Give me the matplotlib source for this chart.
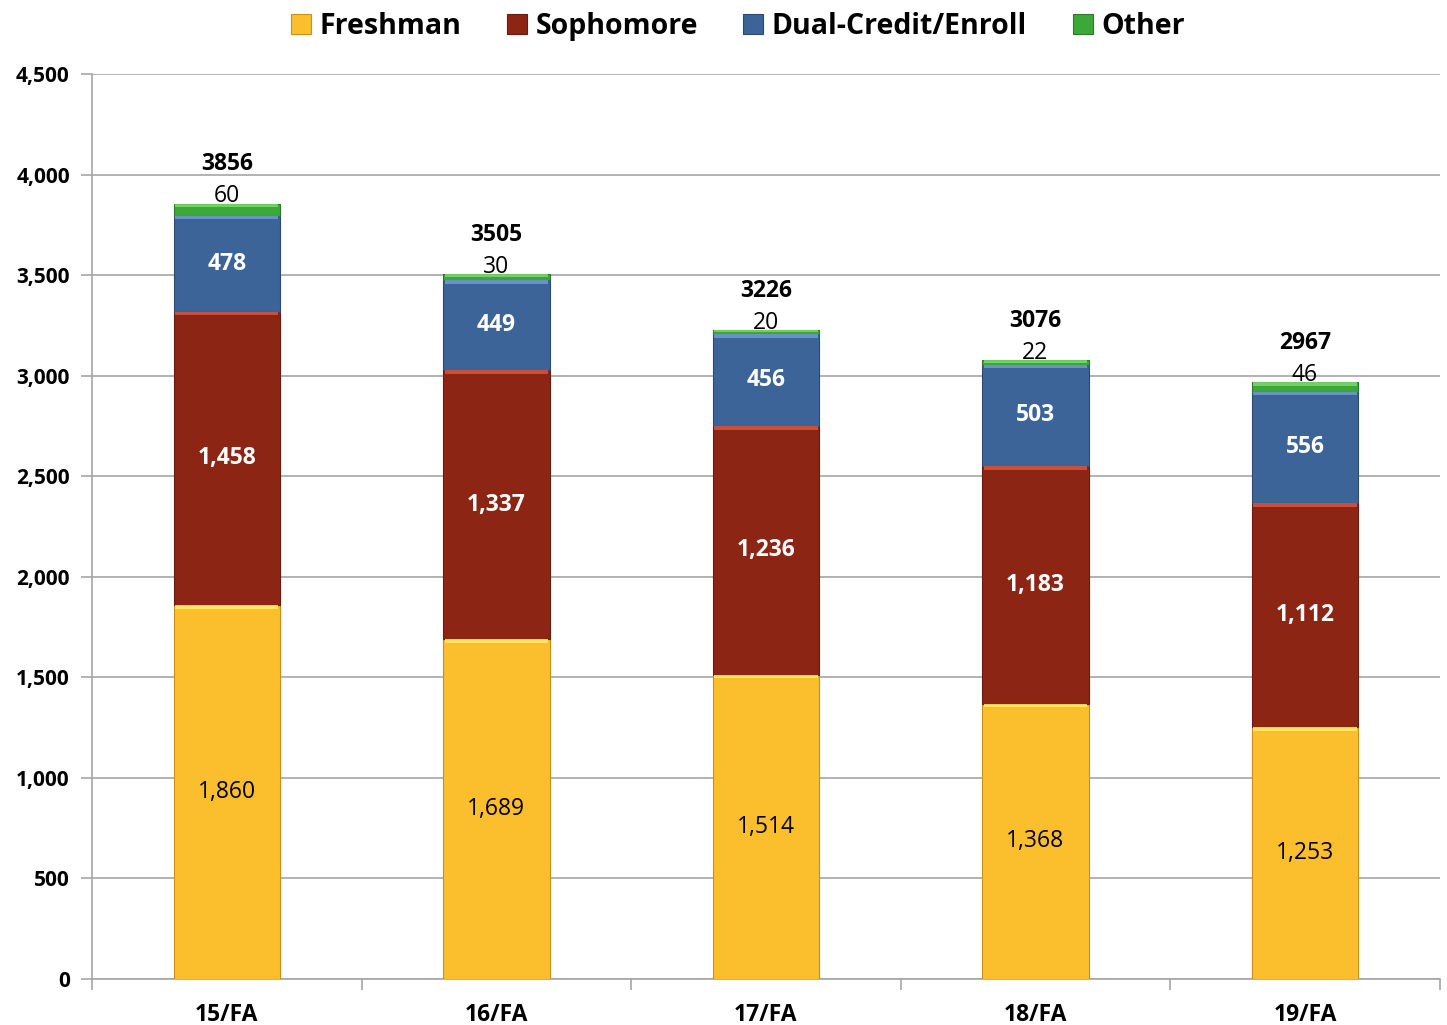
import numpy as np
import matplotlib
matplotlib.use('Agg')
import matplotlib.pyplot as plt
from matplotlib.ticker import FuncFormatter

# data
terms = ['15/FA', '16/FA', '17/FA', '18/FA', '19/FA']
freshman = [1860, 1689, 1514, 1368, 1253]
sophomore = [1458, 1337, 1236, 1183, 1112]
dual_credit = [478, 449, 456, 503, 556]
other = [60, 30, 20, 22, 46]
totals = [3856, 3505, 3226, 3076, 2967]

plt.rcParams['font.family'] = ['Open Sans', 'DejaVu Sans']

fig = plt.figure(figsize=(14.47, 10.25), dpi=100)
ax = fig.add_axes([0.0636, 0.0449, 0.9314, 0.8829])

x = np.arange(len(terms))
w = 0.395
series = [
    ('Freshman', freshman, '#FBBF2E', '#FFF06A', '#C8901A'),
    ('Sophomore', sophomore, '#8C2514', '#D9553E', '#6A1A0E'),
    ('Dual-Credit/Enroll', dual_credit, '#3C6498', '#6F9BD4', '#2A4A74'),
    ('Other', other, '#3DA83A', '#7ED86F', '#2B7A2A'),
]

bottom = np.zeros(len(terms))
handles = []
for name, vals, col, light, dark in series:
    vals = np.array(vals, dtype=float)
    b = ax.bar(x, vals, w, bottom=bottom, color=col, edgecolor=dark,
               linewidth=0.8, zorder=3, label=name)
    # light bevel strip at the top of each segment
    band = np.minimum(vals * 0.5, 18)
    ax.bar(x, band, w * 0.97, bottom=bottom + vals - band, color=light,
           linewidth=0, zorder=4, alpha=0.85)
    handles.append(b)
    bottom = bottom + vals

# segment labels
fs = 16.5
for i in range(len(terms)):
    ax.text(x[i], freshman[i] / 2, f'{freshman[i]:,}', ha='center', va='center',
            fontsize=fs, color='black', zorder=5)
    ax.text(x[i], freshman[i] + sophomore[i] / 2, f'{sophomore[i]:,}',
            ha='center', va='center', fontsize=fs, color='white',
            fontweight='bold', zorder=5)
    ax.text(x[i], freshman[i] + sophomore[i] + dual_credit[i] / 2,
            f'{dual_credit[i]:,}', ha='center', va='center', fontsize=fs,
            color='white', fontweight='bold', zorder=5)
    ax.text(x[i], totals[i] + 35, f'{other[i]}', ha='center', va='center',
            fontsize=fs, color='black', zorder=5)
    ax.text(x[i], totals[i] + 195, f'{totals[i]}', ha='center', va='center',
            fontsize=fs, color='black', fontweight='bold', zorder=5)

ax.set_xlim(-0.5, len(terms) - 0.5)
ax.set_ylim(0, 4500)
ax.set_yticks(np.arange(0, 4501, 500))
ax.yaxis.set_major_formatter(FuncFormatter(lambda v, p: f'{int(v):,}'))
ax.set_xticks(x)
ax.set_xticklabels(terms)
ax.set_xticks(np.arange(-0.5, len(terms)), minor=True)
ax.tick_params(axis='x', which='major', length=0, pad=17)
ax.tick_params(axis='x', which='minor', length=8, color='#A6A6A6', width=1.2)
ax.tick_params(axis='y', length=8, color='#A6A6A6', width=1.2, pad=8)
for lab in ax.get_yticklabels():
    lab.set_fontsize(15)
    lab.set_fontweight('bold')
for lab in ax.get_xticklabels():
    lab.set_fontsize(16.5)
    lab.set_fontweight('bold')

ax.grid(axis='y', color='#A6A6A6', linewidth=1.2, zorder=0)
ax.set_axisbelow(True)
for s in ['top', 'right']:
    ax.spines[s].set_visible(False)
for s in ['left', 'bottom']:
    ax.spines[s].set_color('#A6A6A6')
    ax.spines[s].set_linewidth(1.2)

fig.legend(handles=handles, labels=[s[0] for s in series], loc='upper center',
           bbox_to_anchor=(0.51, 1.013), ncol=4, frameon=False,
           prop={'size': 20.5, 'weight': 'bold'}, handlelength=0.7,
           handleheight=0.7, handletextpad=0.3, columnspacing=1.6)

fig.savefig('out.png', dpi=100)
